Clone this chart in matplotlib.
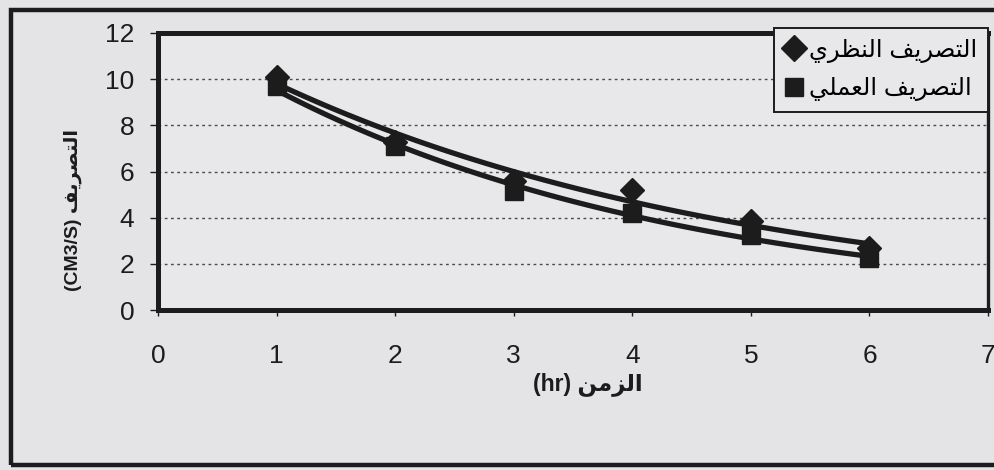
import numpy as np
import matplotlib
matplotlib.use('Agg')
import matplotlib.pyplot as plt
from matplotlib.lines import Line2D
from matplotlib.patches import Rectangle

# --- Data ---
time_hr = [1, 2, 3, 4, 5, 6]
q_theory = [10.1, 7.3, 5.6, 5.2, 3.85, 2.7]
q_practical = [9.7, 7.1, 5.15, 4.2, 3.25, 2.25]

LABEL_THEORY = "التصريف النظري"
LABEL_PRACTICAL = "التصريف العملي"
XLABEL_AR = "الزمن"
XLABEL_UNIT = "(hr)"
YLABEL_AR = "التصريف"
YLABEL_UNIT = "(CM3/S)"

x_ticks = [0, 1, 2, 3, 4, 5, 6, 7]
y_ticks = [0, 2, 4, 6, 8, 10, 12]

# Arabic letters -> (isolated, final, initial, medial) presentation forms
FORMS = {
    'ا': ('\uFE8D', '\uFE8E', None, None),
    'ر': ('\uFEAD', '\uFEAE', None, None),
    'ز': ('\uFEAF', '\uFEB0', None, None),
    'ل': ('\uFEDD', '\uFEDE', '\uFEDF', '\uFEE0'),
    'ت': ('\uFE95', '\uFE96', '\uFE97', '\uFE98'),
    'ص': ('\uFEB9', '\uFEBA', '\uFEBB', '\uFEBC'),
    'ي': ('\uFEF1', '\uFEF2', '\uFEF3', '\uFEF4'),
    'ف': ('\uFED1', '\uFED2', '\uFED3', '\uFED4'),
    'ن': ('\uFEE5', '\uFEE6', '\uFEE7', '\uFEE8'),
    'ظ': ('\uFEC5', '\uFEC6', '\uFEC7', '\uFEC8'),
    'ع': ('\uFEC9', '\uFECA', '\uFECB', '\uFECC'),
    'م': ('\uFEE1', '\uFEE2', '\uFEE3', '\uFEE4'),
}


def shape_ar(text):
    """Join Arabic letters and put them in visual (right-to-left) order."""
    out = []
    for i, ch in enumerate(text):
        if ch not in FORMS:
            out.append(ch)
            continue
        prev = text[i - 1] if i > 0 else ''
        nxt = text[i + 1] if i + 1 < len(text) else ''
        join_prev = prev in FORMS and FORMS[prev][2] is not None
        join_next = nxt in FORMS and FORMS[ch][2] is not None
        iso, fin, ini, med = FORMS[ch]
        if join_prev and join_next:
            out.append(med)
        elif join_prev:
            out.append(fin)
        elif join_next:
            out.append(ini)
        else:
            out.append(iso)
    return ''.join(out)[::-1]


def exp_trend(x, y):
    # Excel-style exponential trendline
    b, a = np.polyfit(x, np.log(y), 1)
    xs = np.linspace(min(x), max(x), 100)
    return xs, np.exp(a + b * xs)


FAM = ['Liberation Sans', 'DejaVu Sans']
INK = '#1c1c1c'

fig = plt.figure(figsize=(9.94, 4.70), dpi=100, facecolor='#e4e4e6')
ax = fig.add_axes([0.159, 0.340, 0.835, 0.590])
ax.set_facecolor('#e8e8ea')

# outer chart frame (right side runs off the picture)
fig.patches.append(Rectangle((0.011, 0.011), 1.1, 0.968, transform=fig.transFigure,
                             fill=False, edgecolor=INK, linewidth=3.2, zorder=0))

for y in (q_theory, q_practical):
    xs, ys = exp_trend(np.array(time_hr), np.array(y))
    ax.plot(xs, ys, color=INK, linewidth=3.8, solid_capstyle='butt', zorder=3)

ax.plot(time_hr, q_theory, linestyle='none', marker='D', markersize=12,
        color=INK, zorder=4)
ax.plot(time_hr, q_practical, linestyle='none', marker='s', markersize=12.5,
        color=INK, zorder=5)

ax.set_xlim(0, 7)
ax.set_ylim(0, 12)
ax.set_xticks(x_ticks)
ax.set_yticks(y_ticks)
ax.tick_params(axis='x', direction='out', length=4, width=1, pad=20,
               labelsize=19, colors=INK)
ax.tick_params(axis='y', direction='out', length=6, width=1, pad=11,
               labelsize=19, colors=INK)
for lab in ax.get_xticklabels() + ax.get_yticklabels():
    lab.set_family(FAM)

for y in y_ticks[1:-1]:
    ax.axhline(y, color='#4a4a4a', linewidth=1, linestyle=(0, (2, 2.5)), zorder=1)

for side in ('left', 'bottom', 'top'):
    ax.spines[side].set_linewidth(3.6)
    ax.spines[side].set_color(INK)
ax.spines['right'].set_linewidth(2.4)
ax.spines['right'].set_color(INK)

ax.set_xlabel(XLABEL_UNIT + ' ' + shape_ar(XLABEL_AR), family=FAM,
              fontweight='bold', fontsize=16.5, color=INK)
ax.xaxis.set_label_coords(0.518, -0.222)
ax.set_ylabel(YLABEL_UNIT + ' ' + shape_ar(YLABEL_AR), family=FAM,
              fontweight='bold', fontsize=14, color=INK)
ax.yaxis.set_label_coords(-0.092, 0.36)

handles = [
    Line2D([], [], linestyle='none', marker='D', markersize=13, color=INK),
    Line2D([], [], linestyle='none', marker='s', markersize=13, color=INK),
]
leg = ax.legend(handles, [shape_ar(LABEL_THEORY), shape_ar(LABEL_PRACTICAL)],
                loc='upper right', bbox_to_anchor=(1.0, 1.018), borderaxespad=0,
                frameon=True, fancybox=False, handlelength=0.8, handletextpad=0.2,
                labelspacing=0.6, borderpad=0.45, prop={'family': FAM, 'size': 17.5})
leg.get_frame().set_edgecolor(INK)
leg.get_frame().set_linewidth(1.4)
leg.get_frame().set_facecolor('#e8e8ea')
leg.get_frame().set_alpha(1)
leg.set_zorder(6)

fig.savefig('out.png', dpi=100, facecolor=fig.get_facecolor())
